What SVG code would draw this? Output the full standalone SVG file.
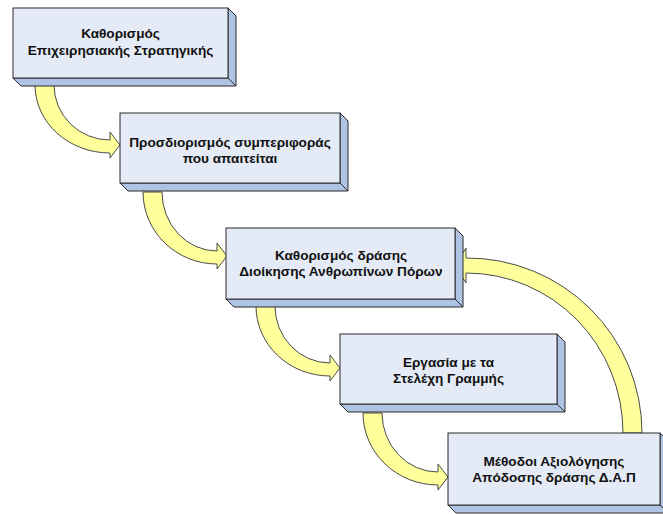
<svg xmlns="http://www.w3.org/2000/svg" width="663" height="514" viewBox="0 0 663 514">
  <style>
    .front { fill: #E5EBF6; stroke: #2b2b2b; stroke-width: 1; }
    .side { fill: #AFC3E4; stroke: #2b2b2b; stroke-width: 1; stroke-linejoin: round; }
    .label { font-family: "Liberation Sans", Arial, sans-serif; font-size: 13.6px; font-weight: bold; fill: #111; text-anchor: middle; }
    .arrow { fill: #FFFF9C; stroke: #4a4a4a; stroke-width: 1; stroke-linejoin: round; }
  </style>
  <rect width="663" height="514" fill="#ffffff"/>

  <!-- curved arrows between the steps, and the feedback loop -->
  <g id="connectors">
    <path class="arrow" d="M35,85 A75,68 0 0 0 110,153 L110,158 L120,145 L110,132 L110,140 A56,55 0 0 1 54,85 Z"/>
    <path class="arrow" d="M143,192 A74,72 0 0 0 217,264 L217,269 L227,256 L217,243 L217,251 A55,59 0 0 1 162,192 Z"/>
    <path class="arrow" d="M256,306 A74,70 0 0 0 330,376 L330,381 L340,368 L330,355 L330,363 A55,57 0 0 1 275,306 Z"/>
    <path class="arrow" d="M363,413 A75,72 0 0 0 438,485 L438,490 L448,477 L438,464 L438,472 A56,59 0 0 1 382,413 Z"/>
    <path class="arrow" d="M642,433 A175,175 0 0 0 466,258 L466,248 L455,266 L466,283 L466,273 A157,160 0 0 1 623,433 Z"/>
  </g>

  <!-- step boxes, each a front face with an extruded side and bottom -->
  <g id="node-strategy">
    <polygon class="side" points="228,8 236,16 236,86 228,78"/>
    <polygon class="side" points="13,78 228,78 236,86 21,86"/>
    <rect class="front" x="13" y="8" width="215" height="70"/>
    <text class="label" x="120.5" y="38">Καθορισμός</text>
    <text class="label" x="120.5" y="54.5">Επιχειρησιακής Στρατηγικής</text>
  </g>

  <g id="node-behaviour">
    <polygon class="side" points="340,113 348,121 348,191 340,183"/>
    <polygon class="side" points="120,183 340,183 348,191 128,191"/>
    <rect class="front" x="120" y="113" width="220" height="70"/>
    <text class="label" x="230" y="147">Προσδιορισμός συμπεριφοράς</text>
    <text class="label" x="230" y="163">που απαιτείται</text>
  </g>

  <g id="node-hr-action">
    <polygon class="side" points="455,228 463,236 463,307 455,299"/>
    <polygon class="side" points="226,299 455,299 463,307 234,307"/>
    <rect class="front" x="226" y="228" width="229" height="71"/>
    <text class="label" x="341" y="260">Καθορισμός δράσης</text>
    <text class="label" x="341" y="276">Διοίκησης Ανθρωπίνων Πόρων</text>
  </g>

  <g id="node-line-managers">
    <polygon class="side" points="557,334 565,342 565,412 557,404"/>
    <polygon class="side" points="340,404 557,404 565,412 348,412"/>
    <rect class="front" x="340" y="334" width="217" height="70"/>
    <text class="label" x="448.5" y="367">Εργασία με τα</text>
    <text class="label" x="448.5" y="383">Στελέχη Γραμμής</text>
  </g>

  <g id="node-appraisal">
    <polygon class="side" points="660,433 668,441 668,513 660,505"/>
    <polygon class="side" points="448,505 660,505 668,513 456,513"/>
    <rect class="front" x="448" y="433" width="212" height="72"/>
    <text class="label" x="554" y="466">Μέθοδοι Αξιολόγησης</text>
    <text class="label" x="554" y="482">Απόδοσης δράσης Δ.Α.Π</text>
  </g>
</svg>
